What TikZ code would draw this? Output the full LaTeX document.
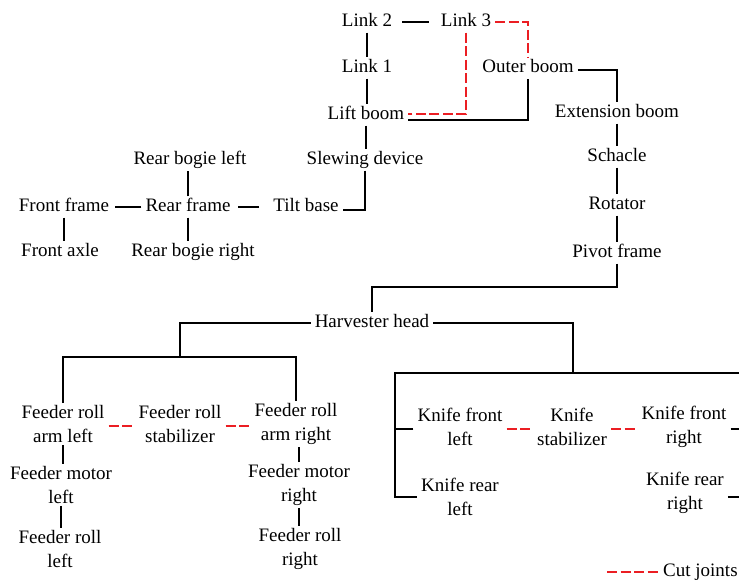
\documentclass[tikz,border=0pt]{standalone}
\usepackage{fontspec}
\setmainfont{Liberation Serif}
\definecolor{cutred}{RGB}{235,30,35}
\begin{document}
\begin{tikzpicture}[x=1pt,y=-1pt,
  lbl/.style={inner xsep=4pt, inner ysep=2pt, font=\fontsize{19}{24}\selectfont, text height=13pt, text depth=4pt},
  lbltwo/.style={inner xsep=4pt, inner ysep=2pt, font=\fontsize{19}{24}\selectfont, align=center},
  conn/.style={line width=1.9pt, black},
  cut/.style={line width=1.9pt, cutred, dash pattern=on 10pt off 3.5pt}]
\useasboundingbox (0,0) rectangle (739,582);
% ---- boom / crane part
\node[lbl] (l2) at (367,22) {Link 2};
\node[lbl] (l3) at (466,22) {Link 3};
\node[lbl] (l1) at (367,68) {Link 1};
\node[lbl] (ob) at (528,68) {Outer boom};
\node[lbl] (lb) at (366,115) {Lift boom};
\node[lbl] (eb) at (617,113) {Extension boom};
\node[lbl] (sd) at (365,160) {Slewing device};
\node[lbl] (sc) at (617,157) {Schacle};
\node[lbl] (ro) at (617,205) {Rotator};
\node[lbl] (pf) at (617,253) {Pivot frame};
% ---- base machine
\node[lbl] (rbl) at (190,160) {Rear bogie left};
\node[lbl] (ff) at (64,207) {Front frame};
\node[lbl] (rf) at (188,207) {Rear frame};
\node[lbl] (tb) at (306,207) {Tilt base};
\node[lbl] (fa) at (60,252) {Front axle};
\node[lbl] (rbr) at (193,252) {Rear bogie right};
% ---- harvester head
\node[lbl] (hh) at (372,323) {Harvester head};
\node[lbltwo] (fal) at (63,424) {Feeder roll\\arm left};
\node[lbltwo] (fst) at (180,424) {Feeder roll\\stabilizer};
\node[lbltwo] (far) at (296,424) {Feeder roll\\arm right};
\node[lbltwo] (fml) at (61,485) {Feeder motor\\left};
\node[lbltwo] (fmr) at (299,485) {Feeder motor\\right};
\node[lbltwo] (frl) at (60,549) {Feeder roll\\left};
\node[lbltwo] (frr) at (300,549) {Feeder roll\\right};
\node[lbltwo] (kfl) at (460,427) {Knife front\\left};
\node[lbltwo] (kst) at (572,427) {Knife\\stabilizer};
\node[lbltwo] (kfr) at (684,427) {Knife front\\right};
\node[lbltwo] (krl) at (460,497) {Knife rear\\left};
\node[lbltwo] (krr) at (685,493) {Knife rear\\right};
% ---- legend
\coordinate (lg) at (607,572);
\node[lbl, anchor=west] (cj) at (659,572) {Cut joints};
% ---- helper coordinates
\coordinate (pfj) at (617,287);
\coordinate (fbar) at (180,357);
\coordinate (kbar) at (573,373);
\coordinate (kleft) at (395,373);
\coordinate (kedge) at (740,373);
% ---- connectors: crane
\draw[conn, shorten <=6pt, shorten >=8pt] (l2) -- (l3);
\draw[conn] (l2) -- (l1);
\draw[conn] (l1.south) -- (l1.south |- lb.north);
\draw[conn] (lb.south) -- (lb.south |- sd.north);
\draw[cut] (l3.east) -| (ob.north);
\draw[cut] (l3.south) |- ([yshift=1pt]lb.east);
\draw[conn] ([yshift=-5pt]lb.east) -| (ob.south);
\draw[conn] ([yshift=-2pt]ob.east) -| (eb.north);
\draw[conn] (eb) -- (sc);
\draw[conn] (sc) -- (ro);
\draw[conn] (ro) -- (pf);
\draw[conn] (sd.south) |- ([yshift=-3pt]tb.east);
% ---- connectors: base machine
\draw[conn, shorten <=10pt, shorten >=3pt] (tb) -- (rf);
\draw[conn, shorten >=2pt] (rf) -- (ff);
\draw[conn] (rf.north) -- (rf.north |- rbl.south);
\draw[conn] (rf.south) -- (rf.south |- rbr.north);
\draw[conn] (ff.south) -- (ff.south |- fa.north);
% ---- connectors: harvester head
\draw[conn] (pf.south) -- (pfj) -| (hh.north);
\draw[conn] (hh.west) -| (fbar);
\draw[conn] (fal.north) |- (far.north |- fbar) -- (far.north);
\draw[cut] ([yshift=-2pt]fal.east) -- ([yshift=-2pt]fst.west);
\draw[cut] ([yshift=-2pt]fst.east) -- ([yshift=-2pt]far.west);
\draw[conn] (fal.south) -- (fal.south |- fml.north);
\draw[conn] (fml.south) -- (fml.south |- frl.north);
\draw[conn] (fmr.north) -- (fmr.north |- far.south);
\draw[conn] (fmr.south) -- (fmr.south |- frr.north);
\draw[conn] (hh.east) -| (kbar);
\draw[conn] (kedge) -- (kleft) |- (krl.west);
\draw[conn] ([yshift=-2pt]kfl.west) -- ([yshift=-2pt]kfl.west -| kleft);
\draw[cut] ([yshift=-2pt]kfl.east) -- ([yshift=-2pt]kst.west);
\draw[cut] ([yshift=-2pt]kst.east) -- ([yshift=-2pt]kfr.west);
\draw[conn] ([yshift=-2pt]kfr.east) -- ([yshift=-2pt]kfr.east -| kedge);
\draw[conn] ([yshift=-4pt]krr.east) -- ([yshift=-4pt]krr.east -| kedge);
% ---- legend line
\draw[cut] (lg) -- (cj.west);
\end{tikzpicture}
\end{document}
